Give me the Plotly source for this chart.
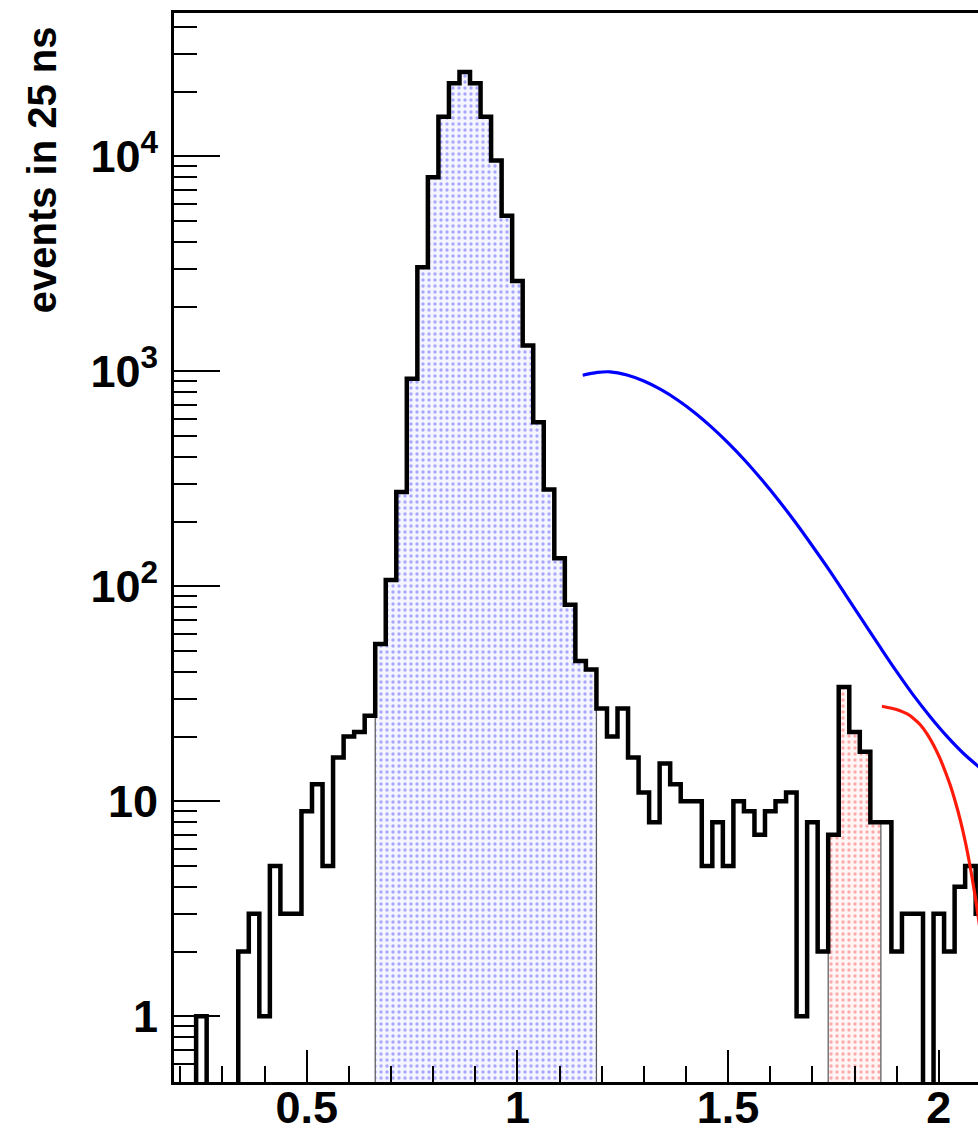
import plotly.graph_objects as go

# ---------------- data ----------------
BIN_W = 0.025  # 25 ns bins
bin_centers = [round(0.25 + BIN_W * i, 4) for i in range(75)]
counts = [
    1, 0, 0, 0, 2, 3, 1, 5, 3, 3,
    9, 12, 5, 16, 20, 21, 25, 54, 107, 275,
    925, 3050, 8000, 15300, 21900, 24700, 21900, 15300, 9560, 5300,
    2630, 1320, 580, 282, 135, 82, 45, 41, 27, 20,
    27, 16, 11, 8, 15, 12, 10, 10, 5, 8,
    5, 10, 9, 7, 9, 10, 11, 1, 8, 2,
    7, 34, 21, 17, 8, 8, 2, 3, 3, 0,
    3, 2, 4, 5, 3,
]
prompt_window = (0.6625, 1.1875)
delayed_window = (1.7375, 1.8625)

blue_x = [1.155, 1.19, 1.22, 1.26, 1.30, 1.34, 1.38, 1.42, 1.46, 1.50, 1.54, 1.58, 1.62,
          1.66, 1.70, 1.74, 1.78, 1.82, 1.86, 1.90, 1.94, 1.98, 2.02, 2.06, 2.10, 2.12]
blue_y = [959, 989, 995, 962, 902, 824, 736, 644, 552, 465, 385, 313, 251,
          198, 154, 119, 90.6, 68.9, 52.4, 40.1, 31.1, 24.7, 20.0, 16.6, 14.2, 13.2]

red_x = [1.865, 1.888, 1.908, 1.925, 1.940, 1.956, 1.972, 1.988, 2.003, 2.015, 2.027,
         2.039, 2.051, 2.063, 2.074, 2.084, 2.093, 2.10]
red_y = [27.7, 27.1, 26.4, 25.5, 24.3, 22.7, 20.6, 18.2, 15.8, 13.8, 11.9,
         9.98, 8.18, 6.47, 5.02, 3.85, 2.96, 2.38]

y_tick_vals = [1, 10, 100, 1000, 10000]
y_tick_text = ["1", "10", "10<sup>2</sup>", "10<sup>3</sup>", "10<sup>4</sup>"]
y_title = "events in 25 ns"

# ---------------- helpers ----------------
FLOOR = 0.1  # below axis minimum, so empty bins drop to the frame


def region_polygon(lo_edge, hi_edge):
    xs, ys = [], []
    for c, v in zip(bin_centers, counts):
        if lo_edge < c < hi_edge:
            xs += [c - BIN_W / 2, c + BIN_W / 2]
            ys += [max(v, FLOOR), max(v, FLOOR)]
    xs += [xs[-1], xs[0], xs[0]]
    ys += [FLOOR, FLOOR, ys[0]]
    return xs, ys


step_x = [bin_centers[0] - BIN_W / 2] + [c - BIN_W / 2 for c in bin_centers] + [bin_centers[-1] + BIN_W / 2]
step_y = [FLOOR] + [v if v > 0 else FLOOR for v in counts] + [counts[-1] if counts[-1] > 0 else FLOOR]

fig = go.Figure()

px_, py_ = region_polygon(*prompt_window)
fig.add_trace(go.Scatter(
    x=px_, y=py_, mode="lines", fill="toself",
    fillcolor="rgba(0,0,0,0)",
    fillpattern=dict(shape=".", fgcolor="#5a5aff", bgcolor="#f5f5ff", size=6, solidity=0.25),
    line=dict(color="#555555", width=1.2), hoverinfo="skip", showlegend=False,
))
rx_, ry_ = region_polygon(*delayed_window)
fig.add_trace(go.Scatter(
    x=rx_, y=ry_, mode="lines", fill="toself",
    fillcolor="rgba(0,0,0,0)",
    fillpattern=dict(shape=".", fgcolor="#ff6060", bgcolor="#fff5f5", size=6, solidity=0.25),
    line=dict(color="#555555", width=1.2), hoverinfo="skip", showlegend=False,
))

fig.add_trace(go.Scatter(
    x=step_x, y=step_y, mode="lines", line=dict(color="black", width=4.5, shape="hv"),
    showlegend=False,
))

fig.add_trace(go.Scatter(
    x=blue_x, y=blue_y, mode="lines", line=dict(color="#0000ff", width=3.2, shape="spline", smoothing=1.0),
    showlegend=False,
))
fig.add_trace(go.Scatter(
    x=red_x, y=red_y, mode="lines", line=dict(color="#ff1a0a", width=3.2, shape="spline", smoothing=1.0),
    showlegend=False,
))

minor_y = ([0.5, 0.6, 0.7, 0.8, 0.9] + list(range(2, 10)) + list(range(20, 100, 10))
           + list(range(200, 1000, 100)) + list(range(2000, 10000, 1000)) + [20000, 30000, 40000])

FONT = "Liberation Sans, Arial, Helvetica, sans-serif"

fig.update_layout(
    width=978, height=1131,
    margin=dict(l=174, r=0, t=13, b=49),
    paper_bgcolor="white", plot_bgcolor="white",
    xaxis=dict(
        range=[0.185, 2.093], automargin=False,
        showgrid=False, zeroline=False,
        showline=True, linecolor="black", linewidth=3, mirror=True,
        ticks="inside", ticklen=32, tickwidth=2, tickcolor="black",
        tick0=0, dtick=0.5,
        tickfont=dict(family=FONT, size=45, color="black", weight="bold"),
        ticklabelstandoff=-16,
        minor=dict(dtick=0.1, tick0=0, ticks="inside", ticklen=16, tickwidth=2, tickcolor="black"),
    ),
    yaxis=dict(
        type="log", range=[-0.3056, 4.667], automargin=False,
        showgrid=False, zeroline=False,
        showline=True, linecolor="black", linewidth=3, mirror=False,
        ticks="inside", ticklen=46, tickwidth=2, tickcolor="black",
        tickvals=y_tick_vals, ticktext=y_tick_text,
        tickfont=dict(family=FONT, size=45, color="black", weight="bold"),
        ticklabelstandoff=4,
        minor=dict(tickvals=minor_y, ticks="inside", ticklen=23, tickwidth=2, tickcolor="black"),
    ),
    annotations=[dict(
        text=y_title, textangle=-90, xref="paper", yref="paper",
        x=-0.164, y=0.853, xanchor="center", yanchor="middle", showarrow=False,
        font=dict(family=FONT, size=40, color="black", weight="bold"),
    )],
)

fig.write_html("out.html")
